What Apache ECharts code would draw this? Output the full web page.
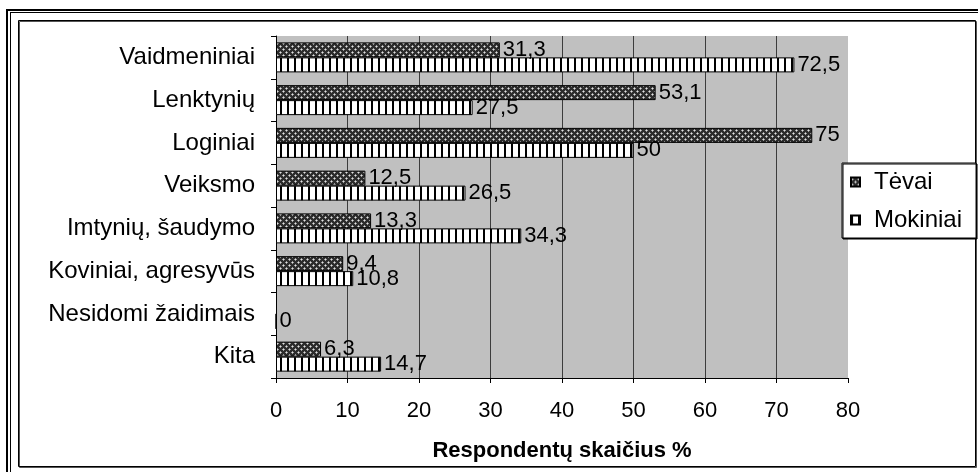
<!DOCTYPE html>
<html>
<head>
<meta charset="utf-8">
<script src="https://cdn.jsdelivr.net/npm/echarts@6/dist/echarts.min.js"></script>
<style>
html, body { margin: 0; padding: 0; background: #fff; }
#main { width: 978px; height: 472px; }
</style>
</head>
<body>
<div id="main"></div>
<script>
var categories = ['Vaidmeniniai', 'Lenktynių', 'Loginiai', 'Veiksmo', 'Imtynių, šaudymo', 'Koviniai, agresyvūs', 'Nesidomi žaidimais', 'Kita'];
var tevai = [31.3, 53.1, 75, 12.5, 13.3, 9.4, null, 6.3];
var mokiniai = [72.5, 27.5, 50, 26.5, 34.3, 10.8, 0, 14.7];
var xTicks = { min: 0, max: 80, step: 10 };

var font = 'Liberation Sans, Arial, sans-serif';

// crosshatch tile for Tėvai
function hatchTile() {
    var c = document.createElement('canvas');
    c.width = 6; c.height = 6;
    var g = c.getContext('2d');
    g.fillStyle = '#2c2c2c';
    g.fillRect(0, 0, 6, 6);
    g.fillStyle = '#9a9a9a';
    [[1, 1], [4, 4]].forEach(function (p) {
        g.fillRect(p[0] - 1, p[1], 3, 1);
        g.fillRect(p[0], p[1] - 1, 1, 3);
    });
    g.fillStyle = '#e0e0e0';
    g.fillRect(1, 1, 1, 1);
    g.fillRect(4, 4, 1, 1);
    return c;
}
// vertical stripes for Mokiniai
function stripeTile() {
    var c = document.createElement('canvas');
    c.width = 7; c.height = 7;
    var g = c.getContext('2d');
    g.fillStyle = '#ffffff';
    g.fillRect(0, 0, 7, 7);
    g.fillStyle = '#000000';
    g.fillRect(0, 0, 2, 7);
    return c;
}

function fmt(p) {
    return p.value == null ? '' : String(p.value).replace('.', ',');
}

var labelStyle = {
    show: true,
    position: 'right',
    distance: 3,
    color: '#000',
    fontFamily: font,
    fontSize: 22,
    formatter: fmt
};

option = {
    animation: false,
    backgroundColor: '#fff',
    grid: {
        left: 276,
        right: 130,
        top: 36,
        bottom: 94,
        show: true,
        backgroundColor: '#c0c0c0',
        borderWidth: 0
    },
    legend: {
        orient: 'vertical',
        left: 842,
        top: 163,
        padding: [7, 14, 6, 8],
        itemGap: 14,
        itemWidth: 9,
        itemHeight: 9,
        icon: 'rect',
        backgroundColor: '#fff',
        borderColor: '#000',
        borderWidth: 1,
        shadowColor: '#000',
        shadowBlur: 0,
        shadowOffsetX: 1,
        shadowOffsetY: 1,
        textStyle: {
            color: '#000',
            fontFamily: font,
            fontSize: 24,
            padding: [0, 0, 0, 9]
        },
        data: ['Tėvai', 'Mokiniai']
    },
    xAxis: {
        type: 'value',
        min: xTicks.min,
        max: xTicks.max,
        interval: xTicks.step,
        name: 'Respondentų skaičius %',
        nameLocation: 'middle',
        nameGap: 62,
        nameTextStyle: {
            color: '#000',
            fontFamily: font,
            fontSize: 22,
            fontWeight: 'bold'
        },
        axisLine: { show: true, lineStyle: { color: '#000', width: 1 } },
        axisTick: { show: true, length: 5, lineStyle: { color: '#000' } },
        axisLabel: { color: '#000', fontFamily: font, fontSize: 22, margin: 22 },
        splitLine: { show: true, showMinLine: false, showMaxLine: false, lineStyle: { color: '#3c3c3c', width: 1 } }
    },
    yAxis: {
        type: 'category',
        inverse: true,
        data: categories,
        axisLine: { show: true, lineStyle: { color: '#000', width: 1 } },
        axisTick: { show: true, length: 5, lineStyle: { color: '#000' } },
        axisLabel: { color: '#000', fontFamily: font, fontSize: 24, margin: 21 },
        splitLine: { show: false }
    },
    series: [
        {
            name: 'Tėvai',
            type: 'bar',
            barWidth: 15,
            barGap: '0%',
            data: tevai,
            itemStyle: {
                color: { image: hatchTile(), repeat: 'repeat' },
                borderColor: '#000',
                borderWidth: 1
            },
            label: labelStyle
        },
        {
            name: 'Mokiniai',
            type: 'bar',
            barWidth: 15,
            barGap: '0%',
            data: mokiniai,
            itemStyle: {
                color: { image: stripeTile(), repeat: 'repeat' },
                borderColor: '#000',
                borderWidth: 1
            },
            label: labelStyle
        }
    ],
    graphic: [
        { type: 'line', silent: true, shape: { x1: 6, y1: 10, x2: 978, y2: 10 }, style: { stroke: '#000', lineWidth: 2 } },
        { type: 'line', silent: true, shape: { x1: 10, y1: 12.5, x2: 978, y2: 12.5 }, style: { stroke: '#000', lineWidth: 1 } },
        { type: 'line', silent: true, shape: { x1: 7, y1: 9, x2: 7, y2: 472 }, style: { stroke: '#000', lineWidth: 2 } },
        { type: 'line', silent: true, shape: { x1: 10.5, y1: 12, x2: 10.5, y2: 472 }, style: { stroke: '#000', lineWidth: 1 } },
        {
            type: 'rect', silent: true, z: -1,
            shape: { x: 18.5, y: 20.5, width: 957, height: 446 },
            style: { fill: null, stroke: '#000', lineWidth: 1, shadowColor: '#555', shadowOffsetX: 1, shadowOffsetY: 1 }
        }
    ]
};
echarts.init(document.getElementById('main')).setOption(option);
</script>
</body>
</html>
